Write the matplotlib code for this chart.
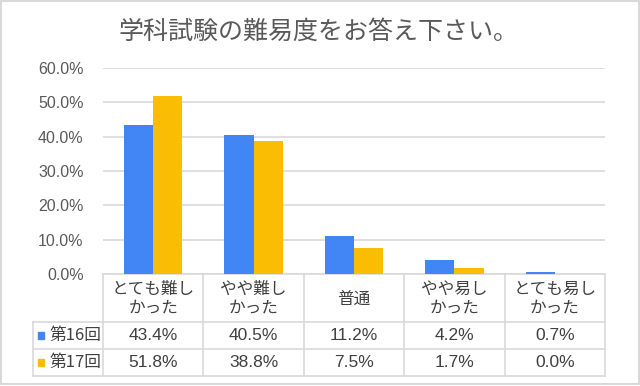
import numpy as np
import matplotlib
matplotlib.use('Agg')
import matplotlib.pyplot as plt
from matplotlib.patches import Rectangle

plt.rcParams['font.family'] = ['Noto Sans CJK JP', 'DejaVu Sans']

title = '学科試験の難易度をお答え下さい。'
categories = ['とても難し\nかった', 'やや難し\nかった', '普通', 'やや易し\nかった', 'とても易し\nかった']
series_names = ['第16回', '第17回']
s16 = [43.4, 40.5, 11.2, 4.2, 0.7]
s17 = [51.8, 38.8, 7.5, 1.7, 0.0]
yticks = [0, 10, 20, 30, 40, 50, 60]
colors = ['#4285F4', '#FBBC04']

W, H = 640, 386
fig = plt.figure(figsize=(W / 100, H / 100), dpi=100)

# plot area in pixels
x0, x1, ytop, ybot = 103, 605, 68, 274
ax = fig.add_axes([x0 / W, 1 - ybot / H, (x1 - x0) / W, (ybot - ytop) / H])

n = len(categories)
x = np.arange(n)
bw = 0.29
ax.bar(x - bw / 2, s16, bw, color=colors[0], zorder=3)
ax.bar(x + bw / 2, s17, bw, color=colors[1], zorder=3)
ax.set_xlim(-0.5, n - 0.5)
ax.set_ylim(0, 60)
ax.set_yticks(yticks)
ax.set_yticklabels([f'{v:.1f}%' for v in yticks], family='Liberation Sans',
                   fontsize=11.5, color='#595959')
ax.yaxis.grid(True, color='#d9d9d9', linewidth=1.2, zorder=0)
ax.tick_params(axis='y', length=0, pad=14)
ax.set_xticks([])
for s in ['top', 'right', 'left']:
    ax.spines[s].set_visible(False)
ax.spines['bottom'].set_color('#d9d9d9')
ax.spines['bottom'].set_linewidth(1.2)

# overlay in pixel coords for title, table and border
ov = fig.add_axes([0, 0, 1, 1], facecolor='none')
ov.set_xlim(0, W)
ov.set_ylim(H, 0)
ov.axis('off')

ov.add_patch(Rectangle((1, 1), W - 2, H - 3, fill=False, edgecolor='#d9d9d9', linewidth=1.5))
ov.text(318, 32, title, ha='center', va='center', fontsize=18, color='#595959')

grid_c = '#d9d9d9'
colw = (x1 - x0) / n
r1, r2, r3 = 322, 349, 376
label_x = 33
for i in range(n + 1):
    xx = x0 + i * colw
    ov.plot([xx, xx], [ybot, r3], color=grid_c, lw=1.2)
ov.plot([label_x, label_x], [r1, r3], color=grid_c, lw=1.2)
for yy in [r1, r2, r3]:
    ov.plot([label_x, x1], [yy, yy], color=grid_c, lw=1.2)

for i, c in enumerate(categories):
    ov.text(x0 + (i + 0.5) * colw, (ybot + r1) / 2 + 1, c, ha='center', va='center',
            fontsize=12, color='#404040', linespacing=1.1)

rows = [s16, s17]
for j, (name, vals) in enumerate(zip(series_names, rows)):
    yc = (r1 + r2) / 2 if j == 0 else (r2 + r3) / 2
    ov.add_patch(Rectangle((37.5, yc - 3.5), 6, 7, color=colors[j]))
    ov.text(49, yc, name, ha='left', va='center', fontsize=12, color='#404040')
    for i, v in enumerate(vals):
        ov.text(x0 + (i + 0.5) * colw, yc, f'{v:.1f}%', ha='center', va='center',
                fontsize=12.5, color='#404040', family='Liberation Sans')

fig.savefig('out.png', dpi=100)
